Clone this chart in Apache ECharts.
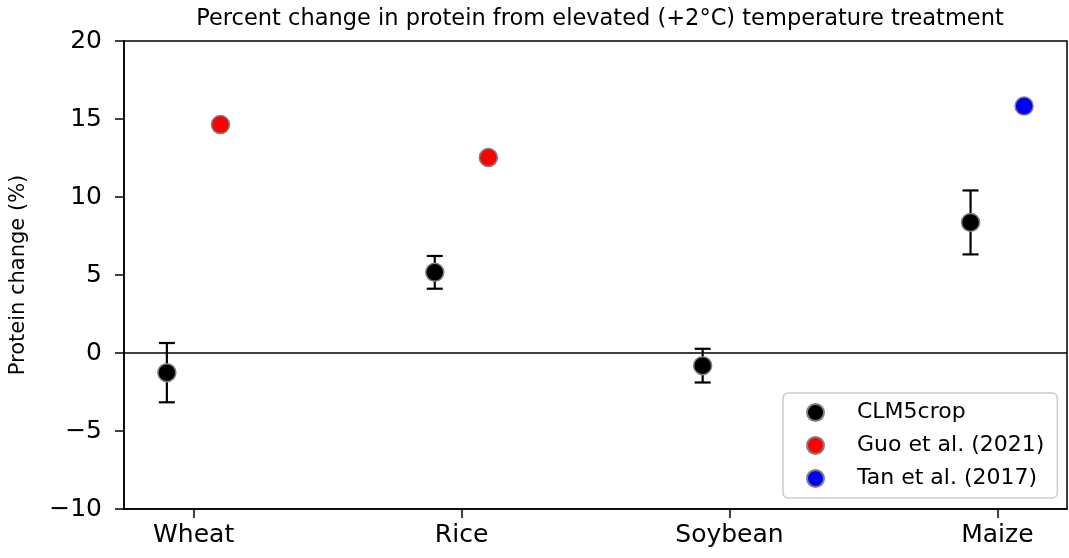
<!DOCTYPE html>
<html>
<head>
<meta charset="utf-8">
<script src="https://cdn.jsdelivr.net/npm/echarts@6/dist/echarts.min.js"></script>
<style>
html,body{margin:0;padding:0;background:#fff;}
#chart{width:1069px;height:558px;}
</style>
</head>
<body>
<div id="chart"></div>
<script>
// ---- data ----
const categories = ['Wheat', 'Rice', 'Soybean', 'Maize'];
const clmMean = [-1.26, 5.17, -0.81, 8.37];
const clmErr = [1.9, 1.05, 1.08, 2.05];
const guoValues = [14.64, 12.53, null, null];
const tanValues = [null, null, null, 15.83];
const yTicks = [-10, -5, 0, 5, 10, 15, 20];
const seriesNames = ['CLM5crop', 'Guo et al. (2021)', 'Tan et al. (2017)'];
const titleText = 'Percent change in protein from elevated (+2°C) temperature treatment';
const yLabel = 'Protein change (%)';

// ---- layout ----
const OFF = 0.1;
const FONT = 'DejaVu Sans';

const clmData = categories.map((c, i) => [i - OFF, clmMean[i]]);
const errData = categories.map((c, i) => [i - OFF, clmMean[i] - clmErr[i], clmMean[i] + clmErr[i]]);
const guoData = [];
guoValues.forEach((v, i) => { if (v != null) guoData.push([i + OFF, v]); });
const tanData = [];
tanValues.forEach((v, i) => { if (v != null) tanData.push([i + OFF, v]); });

const fmtMinus = v => (v < 0 ? '\u2212' + Math.abs(v) : String(v));

const chart = echarts.init(document.getElementById('chart'), null, {renderer: 'canvas'});
const markerBorder = {borderColor: '#808080', borderWidth: 1.5};

chart.setOption({
  animation: false,
  backgroundColor: '#fff',
  title: {
    text: titleText,
    left: 595, top: 3, textAlign: 'center',
    textStyle: {fontFamily: FONT, fontSize: 22.5, fontWeight: 'normal', color: '#000'}
  },
  grid: {
    left: 123, right: 2, top: 41, bottom: 49,
    show: true, borderColor: '#000', borderWidth: 1.5, backgroundColor: 'transparent'
  },
  legend: {
    orient: 'vertical',
    left: 783, top: 393,
    padding: [7.5, 13, 7.5, 23],
    itemGap: 9,
    itemWidth: 17, itemHeight: 17,
    icon: 'circle',
    backgroundColor: '#fff',
    borderColor: '#cccccc', borderWidth: 1.5, borderRadius: 5,
    data: seriesNames,
    textStyle: {fontFamily: FONT, fontSize: 22, color: '#000', lineHeight: 24, padding: [0, 0, 0, 28]}
  },
  xAxis: {
    type: 'value', min: -0.26, max: 3.26,
    axisLine: {show: true, onZero: false, lineStyle: {color: '#000', width: 1.5}},
    axisTick: {show: true, length: 9, lineStyle: {color: '#000', width: 1.5}, customValues: [0, 1, 2, 3]},
    axisLabel: {
      customValues: [0, 1, 2, 3],
      formatter: v => categories[Math.round(v)],
      fontFamily: FONT, fontSize: 25, color: '#000', margin: 14
    },
    splitLine: {show: false}
  },
  yAxis: {
    type: 'value', min: -10, max: 20, interval: 5,
    name: yLabel, nameLocation: 'middle', nameGap: 95,
    nameTextStyle: {fontFamily: FONT, fontSize: 21, color: '#000'},
    axisLine: {show: true, onZero: false, lineStyle: {color: '#000', width: 1.5}},
    axisTick: {show: true, length: 9, lineStyle: {color: '#000', width: 1.5}},
    axisLabel: {formatter: fmtMinus, fontFamily: FONT, fontSize: 25, color: '#000', margin: 22},
    splitLine: {show: false}
  },
  series: [
    {
      type: 'custom',
      name: 'errbar',
      data: errData,
      encode: {x: 0, y: [1, 2]},
      z: 2,
      silent: true,
      renderItem: function (params, api) {
        const x = api.value(0);
        const lo = api.coord([x, api.value(1)]);
        const hi = api.coord([x, api.value(2)]);
        const cap = 8;
        const style = {stroke: '#000', lineWidth: 2.2};
        return {
          type: 'group',
          children: [
            {type: 'line', shape: {x1: lo[0], y1: lo[1], x2: hi[0], y2: hi[1]}, style: style},
            {type: 'line', shape: {x1: lo[0] - cap, y1: lo[1], x2: lo[0] + cap, y2: lo[1]}, style: style},
            {type: 'line', shape: {x1: hi[0] - cap, y1: hi[1], x2: hi[0] + cap, y2: hi[1]}, style: style}
          ]
        };
      }
    },
    {
      type: 'scatter', name: seriesNames[0], data: clmData,
      symbol: 'circle', symbolSize: 18, z: 3,
      itemStyle: Object.assign({color: '#000', opacity: 1}, markerBorder),
      markLine: {
        silent: true, symbol: 'none', label: {show: false},
        lineStyle: {color: '#000', width: 1.5, type: 'solid'},
        data: [{yAxis: 0}]
      }
    },
    {
      type: 'scatter', name: seriesNames[1], data: guoData,
      symbol: 'circle', symbolSize: 18, z: 3,
      itemStyle: Object.assign({color: '#ff0000', opacity: 1}, markerBorder)
    },
    {
      type: 'scatter', name: seriesNames[2], data: tanData,
      symbol: 'circle', symbolSize: 18, z: 3,
      itemStyle: Object.assign({color: '#0000ff', opacity: 1}, markerBorder)
    }
  ]
});
</script>
</body>
</html>
